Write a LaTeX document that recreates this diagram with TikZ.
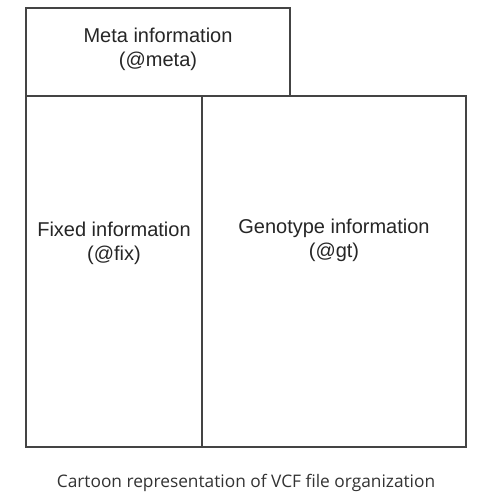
\documentclass[tikz,border=0pt]{standalone}
\usepackage{fontspec}
\setmainfont{Liberation Sans}
\newfontfamily\capfont{Open Sans}
\definecolor{boxline}{HTML}{444444}
\definecolor{captxt}{HTML}{333333}
\begin{document}
\begin{tikzpicture}[x=1pt,y=-1pt,
  part/.style={draw=boxline,line width=1.5pt},
  lbl/.style={align=center,font=\fontsize{20}{24}\selectfont,text=black!85,inner sep=0pt}]
\useasboundingbox[fill=white] (0,0) rectangle (478,502);
\draw[part] (26,8) rectangle (290,96);
\draw[part] (26,96) rectangle (202,447);
\draw[part] (202,96) rectangle (466,447);
\node[lbl] (meta) at (158,49) {Meta information\\(@meta)};
\node[lbl] (fix) at (114,243) {Fixed information\\(@fix)};
\node[lbl] (gt) at (334,240) {Genotype information\\(@gt)};
\node[font=\capfont\fontsize{17.3}{20}\selectfont,text=captxt,inner sep=0pt] (cap) at (246,483) {Cartoon representation of VCF file organization};
\end{tikzpicture}
\end{document}
